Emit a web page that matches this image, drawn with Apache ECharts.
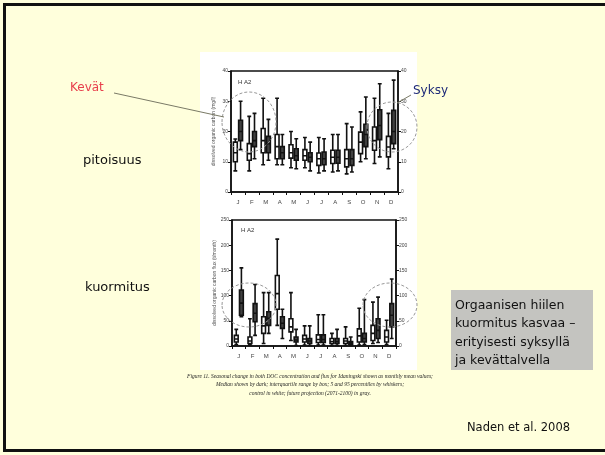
<!DOCTYPE html>
<html>
<head>
<meta charset="utf-8">
<script src="https://cdn.jsdelivr.net/npm/echarts@6/dist/echarts.min.js"></script>
<style>html,body{margin:0;padding:0;background:#FFFFDC;}#c{width:605px;height:455px;}</style>
</head>
<body>
<div id="c"></div>
<script>
// Categories (months)
const months = ['J','F','M','A','M','J','J','A','S','O','N','D'];

// Top chart: DOC concentration (mg/l), [min, Q1, median, Q3, max]
const concControl = [
  [7,10,13,16.5,17.5],[7,10.5,12.7,16,25],[9,13,17,21,31],[9,11,15,19,31],
  [8,11.2,13,15.6,20],[8,10.5,12,14,18],[6.3,8.8,11,12.9,18],[6.6,9.4,11.5,13.8,19],
  [6,8.3,11,14,22.6],[10,12.7,16.5,19.8,26.5],[9.4,13.8,17,21.5,31],[7.7,11.6,14.9,18.4,26]
];
const concFuture = [
  [14,17,20,23.7,30],[11,15,17,20,26],[10.5,13,16,18.4,24],[9,11,13,15,19],
  [7.7,10.5,12,14.3,17.6],[7,10,11.5,13,16.5],[7,9,11,13.2,17.6],[7,9.5,11.5,13.8,19],
  [6.6,8.8,11,14,21.5],[11,15,19,22.4,31.4],[11.6,17.3,22,27.2,35.8],[14.3,16,20,27,37]
];
// Bottom chart: DOC flux (t/month)
const fluxControl = [
  [3,8,14,21,33],[2,5,10,18,54],[5,25,40,58,106],[41,73,104,140,212],
  [11,28,38,54,106],[2,8,14,21,40],[2,7,13,22,62],[1,5,9,15,25],
  [1,5,10,15,38],[2,8,20,34,75],[5,11,25,41,87],[3,8,18,31,51]
];
const fluxFuture = [
  [58,61,85,111,155],[21,48,65,84,122],[25,41,55,68,106],[15,35,45,58,73],
  [1,8,12,18,33],[1,5,10,15,40],[2,7,13,22,62],[1,5,9,15,33],
  [1,3,6,9,18],[3,8,15,25,92],[7,15,31,54,97],[15,38,61,84,133]
];
const concTicks = {min:0, max:40, interval:10};
const fluxTicks = {min:0, max:250, interval:50};

const chart = echarts.init(document.getElementById('c'), null, {renderer:'canvas'});

function yAx(gi, pos, t, name){
  return {
    type:'value', gridIndex:gi, position:pos, min:t.min, max:t.max, interval:t.interval,
    axisLine:{show:true, lineStyle:{color:'#111', width:1.5}},
    axisTick:{show:true, length:3, lineStyle:{color:'#111'}},
    axisLabel:{fontSize:5, color:'#444', margin:3, fontFamily:'Liberation Sans'},
    splitLine:{show:false},
    name: name || '', nameLocation:'middle', nameGap:15, nameRotate:90,
    nameTextStyle:{fontSize:5, color:'#555', fontFamily:'Liberation Sans'}
  };
}
function xAx(gi){
  return {
    type:'category', gridIndex:gi, data:months, boundaryGap:true,
    axisLine:{show:true, lineStyle:{color:'#111', width:1.5}},
    axisTick:{show:true, length:3, lineStyle:{color:'#111'}},
    axisLabel:{fontSize:6, color:'#444', margin:7, fontFamily:'Liberation Sans'},
    splitLine:{show:false}
  };
}
const ctrlStyle = {color:'#ffffff', borderColor:'#111', borderWidth:1.6};
const futStyle = {color:'#404040', borderColor:'#111', borderWidth:1.6};

const option = {
  backgroundColor:'#FFFFDC',
  animation:false,
  grid:[
    {left:231, top:71, width:167, height:121, show:true, borderColor:'#111', borderWidth:1.5, backgroundColor:'transparent'},
    {left:232, top:220, width:164, height:126, show:true, borderColor:'#111', borderWidth:1.5, backgroundColor:'transparent'}
  ],
  xAxis:[xAx(0), xAx(1)],
  yAxis:[
    yAx(0,'left',concTicks,'dissolved organic carbon (mg/l)'), yAx(0,'right',concTicks),
    yAx(1,'left',fluxTicks,'dissolved organic carbon flux (t/month)'), yAx(1,'right',fluxTicks)
  ],
  series:[
    {type:'boxplot', name:'control', xAxisIndex:0, yAxisIndex:0, data:concControl, boxWidth:[3,5], itemStyle:ctrlStyle},
    {type:'boxplot', name:'future', xAxisIndex:0, yAxisIndex:0, data:concFuture, boxWidth:[3,5], itemStyle:futStyle},
    {type:'boxplot', name:'control', xAxisIndex:1, yAxisIndex:2, data:fluxControl, boxWidth:[3,5], itemStyle:ctrlStyle},
    {type:'boxplot', name:'future', xAxisIndex:1, yAxisIndex:2, data:fluxFuture, boxWidth:[3,5], itemStyle:futStyle}
  ],
  graphic:[
    {type:'rect', z:-10, silent:true, shape:{x:4.5, y:4.5, width:640, height:446}, style:{fill:'none', stroke:'#111', lineWidth:3}},
    {type:'rect', z:-5, silent:true, shape:{x:200, y:52, width:217, height:318}, style:{fill:'#ffffff'}},
    // dashed circles
    {type:'ellipse', z:50, silent:true, shape:{cx:249, cy:122, rx:27, ry:30}, style:{fill:'none', stroke:'#999', lineWidth:1, lineDash:[3,2]}},
    {type:'ellipse', z:50, silent:true, shape:{cx:392, cy:127, rx:25, ry:25}, style:{fill:'none', stroke:'#999', lineWidth:1, lineDash:[3,2]}},
    {type:'ellipse', z:50, silent:true, shape:{cx:249, cy:305, rx:27, ry:22}, style:{fill:'none', stroke:'#999', lineWidth:1, lineDash:[3,2]}},
    {type:'ellipse', z:50, silent:true, shape:{cx:390, cy:305, rx:27, ry:22}, style:{fill:'none', stroke:'#999', lineWidth:1, lineDash:[3,2]}},
    // pointer lines
    {type:'line', z:50, silent:true, shape:{x1:114, y1:93, x2:224, y2:117}, style:{stroke:'#7a7a66', lineWidth:1}},
    {type:'line', z:50, silent:true, shape:{x1:411, y1:95, x2:397, y2:103}, style:{stroke:'#7a7a66', lineWidth:1}},
    // labels
    {type:'text', z:60, style:{text:'Kevät', x:70, y:88, fill:'#E8404C', font:'12px "DejaVu Sans"', textVerticalAlign:'middle'}},
    {type:'text', z:60, style:{text:'Syksy', x:413, y:91, fill:'#1E2A78', font:'12px "DejaVu Sans"', textVerticalAlign:'middle'}},
    {type:'text', z:60, style:{text:'pitoisuus', x:83, y:161, fill:'#111', font:'13px "DejaVu Sans"', textVerticalAlign:'middle'}},
    {type:'text', z:60, style:{text:'kuormitus', x:85, y:288, fill:'#111', font:'13px "DejaVu Sans"', textVerticalAlign:'middle'}},
    {type:'text', z:60, style:{text:'H A2', x:238, y:82, fill:'#333', font:'6px "Liberation Sans"', textVerticalAlign:'middle'}},
    {type:'text', z:60, style:{text:'H A2', x:241, y:230, fill:'#333', font:'6px "Liberation Sans"', textVerticalAlign:'middle'}},
    // gray box
    {type:'rect', z:40, silent:true, shape:{x:451, y:290, width:142, height:80}, style:{fill:'#C4C4C0'}},
    {type:'text', z:60, style:{text:'Orgaanisen hiilen\nkuormitus kasvaa –\nerityisesti syksyllä\nja kevättalvella', x:455, y:296, fill:'#111', font:'12.5px "DejaVu Sans"', lineHeight:18.5, textVerticalAlign:'top'}},
    // caption
    {type:'text', z:60, style:{text:'Figure 11. Seasonal change in both DOC concentration and flux for Idaningski shown as monthly mean values;\nMedian shown by dark; interquartile range by box; 5 and 95 percentiles by whiskers;\ncontrol in white; future projection (2071-2100) in gray.', x:310, y:385, fill:'#222', font:'italic 5.5px "Liberation Serif"', lineHeight:8.5, textAlign:'center', textVerticalAlign:'middle'}},
    {type:'text', z:60, style:{text:'Naden et al. 2008', x:467, y:428, fill:'#111', font:'11.5px "DejaVu Sans"', textVerticalAlign:'middle'}}
  ]
};
chart.setOption(option);
</script>
</body>
</html>
